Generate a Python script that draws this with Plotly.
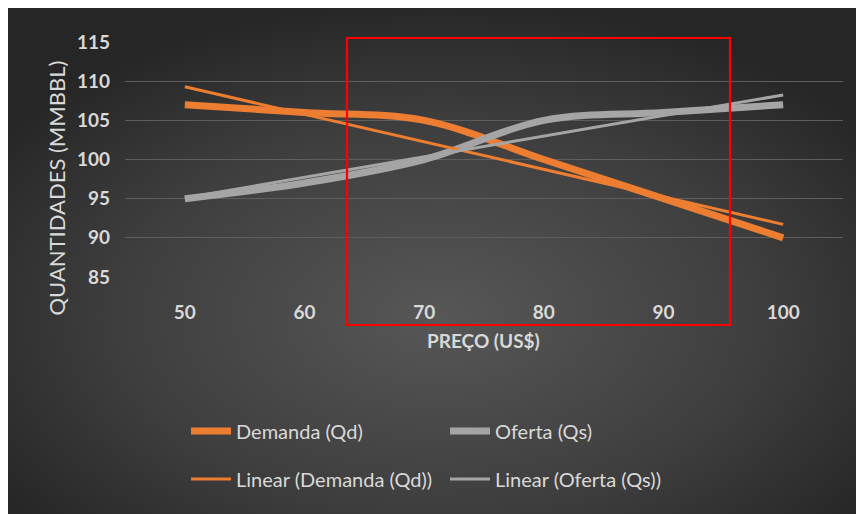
import base64
import numpy as np
import plotly.graph_objects as go

# ---- data ----
precos = [50, 60, 70, 80, 90, 100]
demanda = [107, 106, 105, 100, 95, 90]
oferta = [95, 97, 100, 105, 106, 107]
y_ticks = [85, 90, 95, 100, 105, 110, 115]

# linear trendlines (least squares, like Excel's "Linear" trendline)
x_arr = np.array(precos, dtype=float)
cd = np.polyfit(x_arr, np.array(demanda, dtype=float), 1)
co = np.polyfit(x_arr, np.array(oferta, dtype=float), 1)
lin_dem = list(np.polyval(cd, x_arr))
lin_ofe = list(np.polyval(co, x_arr))

ORANGE = "#ED7D31"
GRAY = "#A5A5A5"
TXT = "#D9D9D9"
FONT = "Lato"

W, H = 864, 514
OFF = 8  # page body margin in the screenshot
L, R, T, B = 117, 29, 34, 245
pw, ph = W - L - R, H - T - B


def px_x(px):
    return (px - OFF - L) / pw


def px_y(py):
    return (H - B - (py - OFF)) / ph


fig = go.Figure()
fig.add_trace(go.Scatter(x=precos, y=demanda, mode="lines", name="Demanda (Qd)",
                         line=dict(color=ORANGE, width=7, shape="spline"), legend="legend"))
fig.add_trace(go.Scatter(x=precos, y=oferta, mode="lines", name="Oferta (Qs)",
                         line=dict(color=GRAY, width=7, shape="spline"), legend="legend"))
fig.add_trace(go.Scatter(x=precos, y=lin_dem, mode="lines", name="Linear (Demanda (Qd))",
                         line=dict(color=ORANGE, width=3), legend="legend2"))
fig.add_trace(go.Scatter(x=precos, y=lin_ofe, mode="lines", name="Linear (Oferta (Qs))",
                         line=dict(color=GRAY, width=3), legend="legend2"))

svg = (
    '<svg xmlns="http://www.w3.org/2000/svg" width="864" height="514" preserveAspectRatio="none">'
    '<defs><radialGradient id="g" cx="50%" cy="60%" r="62%">'
    '<stop offset="0%" stop-color="#575757"/>'
    '<stop offset="60%" stop-color="#3e3e3e"/>'
    '<stop offset="100%" stop-color="#262626"/>'
    '</radialGradient></defs>'
    '<rect width="864" height="514" fill="url(#g)"/></svg>'
)
src = "data:image/svg+xml;base64," + base64.b64encode(svg.encode()).decode()

leg_common = dict(orientation="h", xanchor="left", yanchor="middle",
                  bgcolor="rgba(0,0,0,0)", entrywidth=204, entrywidthmode="pixels",
                  font=dict(family=FONT, size=20, color=TXT), itemwidth=40,
                  traceorder="normal")

fig.update_layout(
    width=W, height=H,
    margin=dict(l=L, r=R, t=T, b=B, pad=0),
    paper_bgcolor="#333333",
    plot_bgcolor="rgba(0,0,0,0)",
    showlegend=True,
    images=[dict(source=src, xref="paper", yref="paper",
                 x=-L / pw, y=1 + T / ph, sizex=W / pw, sizey=H / ph,
                 xanchor="left", yanchor="top", sizing="stretch", layer="below")],
    xaxis=dict(range=[45, 105], tickvals=precos, ticktext=[str(p) for p in precos],
               showgrid=False, zeroline=False, showline=False, ticks="",
               ticklabelstandoff=22,
               tickfont=dict(family=FONT, size=19, color=TXT, weight="bold")),
    yaxis=dict(range=[85, 115], tickvals=y_ticks, showgrid=True, gridcolor="#5E5E5E",
               gridwidth=1.3, zeroline=False, showline=False, ticks="",
               ticklabelstandoff=14,
               tickfont=dict(family=FONT, size=19, color=TXT, weight="bold")),
    legend=dict(x=px_x(186), y=px_y(431), **leg_common),
    legend2=dict(x=px_x(186), y=px_y(479), **leg_common),
    annotations=[
        dict(text="PREÇO (US$)", xref="paper", yref="paper", x=px_x(483), y=px_y(354),
             showarrow=False, font=dict(family=FONT, size=19, color=TXT, weight="bold")),
        dict(text="QUANTIDADES (MMBBL)", xref="paper", yref="paper", x=px_x(40), y=px_y(188),
             showarrow=False, textangle=-90, font=dict(family=FONT, size=22, color=TXT)),
    ],
    shapes=[dict(type="rect", xref="paper", yref="paper",
                 x0=px_x(347), x1=px_x(730), y0=px_y(325), y1=px_y(38),
                 line=dict(color="#FF0000", width=2.2), fillcolor="rgba(0,0,0,0)")],
)

fig.write_html("out.html")
